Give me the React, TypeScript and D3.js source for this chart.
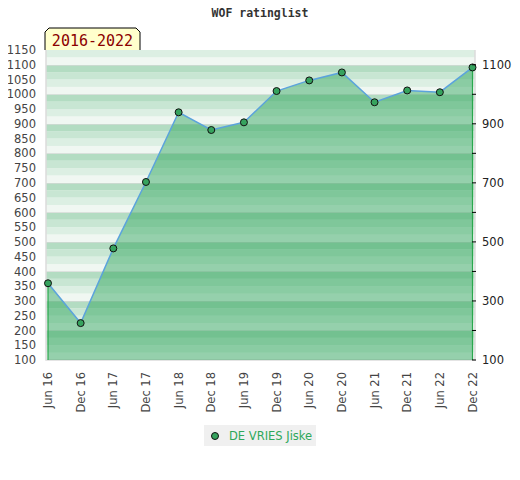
import React, { useEffect, useRef } from "react";
import * as d3 from "d3";

const periods = [
    "Jun 16", "Dec 16", "Jun 17", "Dec 17", "Jun 18", "Dec 18", "Jun 19",
    "Dec 19", "Jun 20", "Dec 20", "Jun 21", "Dec 21", "Jun 22", "Dec 22",
];
const ratings = [360, 225, 478, 703, 939, 879, 905, 1011, 1047, 1074, 973, 1013, 1007, 1091];
const leftTicks = d3.range(100, 1151, 50);
const rightTicks = d3.range(100, 1101, 100);
const rightLabels = [100, 300, 500, 700, 900, 1100];
const seriesName = "DE VRIES Jiske";
const rangeLabel = "2016-2022";
const title = "WOF ratinglist";

const App: React.FC = () => {
    const svgRef = useRef<SVGSVGElement>(null);

    useEffect(() => {
        if (!svgRef.current) return;
        const svg = d3.select(svgRef.current);
        svg.selectAll("*").remove();

        const width = 520;
        const height = 480;
        const plot = { left: 46, right: 475, top: 50, bottom: 360 };

        svg.attr("width", width).attr("height", height);

        const y = d3.scaleLinear().domain([100, 1150]).range([plot.bottom, plot.top]);
        const x = d3.scalePoint<string>().domain(periods).range([48, 472.5]);

        // background bands, 4 per 100 points
        const bandColors: Record<number, string> = {
            75: "#b3dcc2",
            50: "#c8e6d3",
            25: "#dcefe3",
            0: "#f0f7f2",
        };
        const bands = d3.range(100, 1150, 25);
        svg.append("g")
            .selectAll("rect")
            .data(bands)
            .join("rect")
            .attr("x", plot.left)
            .attr("width", plot.right - plot.left)
            .attr("y", (d) => y(d + 25))
            .attr("height", (d) => y(d) - y(d + 25))
            .attr("fill", (d) => bandColors[d % 100]);

        // faint grid
        svg.append("g")
            .selectAll("line")
            .data(d3.range(200, 1101, 100))
            .join("line")
            .attr("x1", plot.left)
            .attr("x2", plot.right)
            .attr("y1", (d) => Math.round(y(d)) + 0.5)
            .attr("y2", (d) => Math.round(y(d)) + 0.5)
            .attr("stroke", "#d8d8d8")
            .attr("stroke-opacity", 0.6);

        // plot frame
        svg.append("path")
            .attr("d", `M${plot.left},${plot.top}V${plot.bottom}H${plot.right}V${plot.top}`)
            .attr("fill", "none")
            .attr("stroke", "#dcdcdc")
            .attr("stroke-width", 1.5);

        // area
        const area = d3
            .area<number>()
            .x((_, i) => x(periods[i]) as number)
            .y0(y(100))
            .y1((d) => y(d));
        svg.append("path")
            .datum(ratings)
            .attr("d", area)
            .attr("fill", "rgb(31,158,78)")
            .attr("fill-opacity", 0.43);

        // edge verticals
        const x0 = x(periods[0]) as number;
        const xn = x(periods[periods.length - 1]) as number;
        svg.append("g")
            .selectAll("line")
            .data([
                { x: x0, v: ratings[0] },
                { x: xn, v: ratings[ratings.length - 1] },
            ])
            .join("line")
            .attr("x1", (d) => d.x)
            .attr("x2", (d) => d.x)
            .attr("y1", (d) => y(d.v))
            .attr("y2", y(100))
            .attr("stroke", "#2aa84e")
            .attr("stroke-width", 1.2);

        // line
        const line = d3
            .line<number>()
            .x((_, i) => x(periods[i]) as number)
            .y((d) => y(d));
        svg.append("path")
            .datum(ratings)
            .attr("d", line)
            .attr("fill", "none")
            .attr("stroke", "#5ba3dc")
            .attr("stroke-width", 1.5);

        // points
        svg.append("g")
            .selectAll("circle")
            .data(ratings)
            .join("circle")
            .attr("cx", (_, i) => x(periods[i]) as number)
            .attr("cy", (d) => y(d))
            .attr("r", 3.5)
            .attr("fill", "#36a35e")
            .attr("stroke", "#111")
            .attr("stroke-width", 1);

        const font = "DejaVu Sans, Verdana, sans-serif";

        // left axis labels
        svg.append("g")
            .selectAll("text")
            .data(leftTicks)
            .join("text")
            .attr("x", 36)
            .attr("y", (d) => y(d))
            .attr("dy", "0.36em")
            .attr("text-anchor", "end")
            .attr("font-family", font)
            .attr("font-size", 11.5)
            .attr("fill", "#444")
            .text((d) => d);

        // right axis ticks and labels
        svg.append("g")
            .selectAll("line")
            .data(rightTicks)
            .join("line")
            .attr("x1", 472)
            .attr("x2", 476)
            .attr("y1", (d) => y(d))
            .attr("y2", (d) => y(d))
            .attr("stroke", "#000");
        svg.append("g")
            .selectAll("text")
            .data(rightLabels)
            .join("text")
            .attr("x", 482)
            .attr("y", (d) => y(d))
            .attr("dy", "0.36em")
            .attr("font-family", font)
            .attr("font-size", 11.5)
            .attr("fill", "#222")
            .text((d) => d);

        // x axis labels
        svg.append("g")
            .selectAll("text")
            .data(periods)
            .join("text")
            .attr("transform", (d) => `translate(${x(d)},372) rotate(-90)`)
            .attr("dy", "0.36em")
            .attr("text-anchor", "end")
            .attr("font-family", font)
            .attr("font-size", 11.5)
            .attr("fill", "#444")
            .text((d) => d);

        // title
        svg.append("text")
            .attr("x", 260)
            .attr("y", 17)
            .attr("text-anchor", "middle")
            .attr("font-family", "DejaVu Sans Mono, monospace")
            .attr("font-weight", "bold")
            .attr("font-size", 11.5)
            .attr("fill", "#333")
            .text(title);

        // range label box
        const bx0 = 45, bx1 = 140, by0 = 28, by1 = 50, c = 4;
        svg.append("path")
            .attr("d", `M${bx0},${by1}V${by0 + c}L${bx0 + c},${by0}H${bx1 - c}L${bx1},${by0 + c}V${by1}`)
            .attr("fill", "#ffffcc")
            .attr("stroke", "#000")
            .attr("stroke-width", 1);
        svg.append("text")
            .attr("x", (bx0 + bx1) / 2)
            .attr("y", 46)
            .attr("text-anchor", "middle")
            .attr("font-family", "DejaVu Sans Mono, monospace")
            .attr("font-size", 15)
            .attr("fill", "#8b0000")
            .text(rangeLabel);

        // legend
        const legend = svg.append("g").attr("transform", "translate(204,425)");
        legend.append("rect")
            .attr("width", 112)
            .attr("height", 21)
            .attr("fill", "#f0f0f0");
        legend.append("circle")
            .attr("cx", 11)
            .attr("cy", 11)
            .attr("r", 3.5)
            .attr("fill", "#36a35e")
            .attr("stroke", "#111");
        legend.append("text")
            .attr("x", 25)
            .attr("y", 11)
            .attr("dy", "0.36em")
            .attr("font-family", font)
            .attr("font-size", 11.5)
            .attr("fill", "#2ea85a")
            .text(seriesName);
    }, []);

    return <svg ref={svgRef} style={{ display: "block", margin: "-8px" }}></svg>;
};

export default App;
